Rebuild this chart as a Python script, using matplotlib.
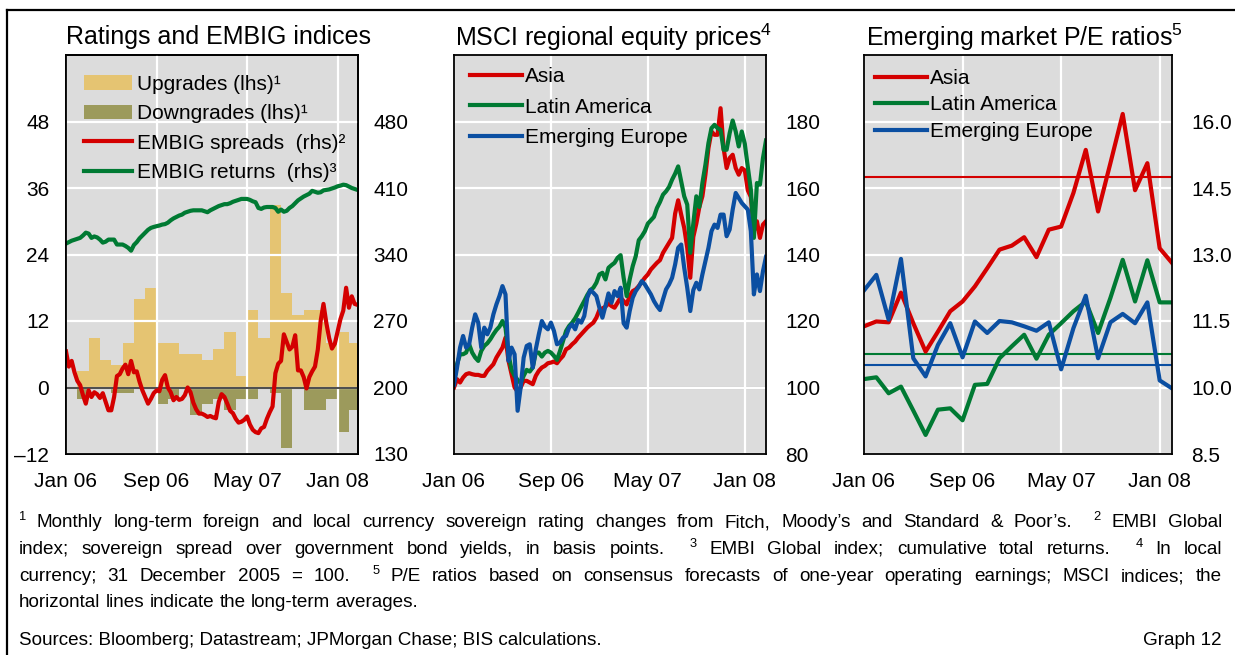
import numpy as np
import matplotlib
matplotlib.use("Agg")
import matplotlib.pyplot as plt
from matplotlib.lines import Line2D

# ---- data ----
tick_months = [0, 8, 16, 24]
tick_labels = ["Jan 06", "Sep 06", "May 07", "Jan 08"]

# monthly rating changes, Jan 06 .. Feb 08 (lhs)
upgrades = [0, 3, 9, 5, 4, 8, 16, 18, 8, 8, 6, 6, 5, 7, 10, 2, 14, 9, 33, 17, 13, 14, 14, 8, 10, 8]
downgrades = [0, -2, 0, 0, -1, -1, 0, 0, -3, -2, 0, -5, -3, -2, -4, -2, -2, 0, -1, -11, 0, -4, -4, -2, -8, -4]

# weekly EMBIG series (rhs), four readings per month from Jan 06
embig_spreads = [238, 222, 228, 216, 207, 202.5, 192, 183, 197, 190, 195, 193, 189, 194, 185, 176,
                 176, 190, 212, 214, 220, 224, 214, 228, 216, 217, 206, 197, 190, 183, 188, 194,
                 197, 196, 208, 213, 200, 195, 186.6, 190, 187, 188, 192, 200, 195, 184, 177, 172.5,
                 172.5, 171, 169, 170, 168.5, 167.6, 185, 193, 190, 183, 175.5, 172.9, 167, 163,
                 164, 166, 169.4, 161, 155.5, 153, 152, 157, 158.5, 167, 174, 180, 215, 225,
                 228, 256, 248, 240, 243, 255, 218, 218, 211, 199, 211, 217, 222, 240, 270, 288,
                 268, 252, 241, 246, 259, 272, 281, 305, 284, 296, 288, 287]
embig_returns = [351.5, 353, 354.5, 355.5, 356.5, 357.5, 360, 363, 362, 357.5, 359, 358, 355.7, 352.5,
                 353.5, 355.7, 355.7, 355.7, 350.5, 350.5, 350.5, 349, 347, 344, 350, 353, 357, 360,
                 363, 366, 368, 369, 369.8, 370.5, 371.5, 372, 373.5, 376, 378, 379.5, 381, 382, 384,
                 385, 386, 386.5, 386.5, 386.5, 386.5, 385.5, 384.5, 386.5, 388, 389.5, 391, 392, 393,
                 393, 394, 395.5, 396.5, 397.5, 398.5, 398.5, 398.5, 397.5, 396, 395, 389, 388, 389.5,
                 390, 390, 390, 389, 385, 387.3, 385, 386, 389, 391, 394, 397, 399, 401, 402.5, 404,
                 407, 406, 405, 405.5, 407.5, 408, 408.5, 409.5, 410.5, 411.8, 412.5, 413.5, 413,
                 411.5, 410, 409, 408]

# MSCI equity prices, 31 Dec 2005 = 100, four readings per month
msci_asia = [100, 102.5, 101.5, 103, 104, 104.3, 104, 103.8, 103.8, 103.5, 103.5, 105, 106, 107, 109,
             110.5, 112, 115, 108, 104, 100, 98.8, 100, 102, 102, 101.5, 101, 103.5, 105, 106, 106.5,
             107.3, 107.5, 107.8, 107.3, 108.5, 109.5, 111.5, 112, 113, 113.8, 115, 116, 117, 118,
             118.8, 119.5, 121, 123.3, 123.8, 124.3, 125.3,
             124.5, 124, 125.5, 127, 126, 125, 127.5, 129, 129.5, 130.5, 131.8, 133, 134, 135.5,
             136.5, 137.5, 138.3, 140.5, 142, 143.5, 145, 152.3, 156.3, 152, 148, 142, 133, 145.3,
             149.3, 154.3, 157.5, 164, 172, 177, 176, 176, 184, 172, 166, 169, 170, 166, 164, 166,
             165.3, 159.3, 157.3, 147, 150, 145, 149, 150]
msci_latam = [102, 107, 110, 110, 110.5, 113, 110.5, 109, 108, 111, 112.5, 113.3, 114.5, 116, 117.3,
              118.3, 120, 118, 110, 105.3, 103.5, 102.3, 101.3, 103.5, 105.3, 104.8, 106, 110.5,
              110.5, 109.3, 110.5, 111, 110.5, 109.5, 108.3, 111, 114, 117, 118.5, 119.5, 120.8,
              122.5, 124.3, 126, 127.8, 129.3, 130, 131.5, 134, 134.5, 132.5, 136,
              136.8, 137.5, 139, 139.8, 133, 127.5, 132.5, 136.5, 139.5, 144.3, 145.5, 147, 149.3,
              150.3, 151.3, 154, 155.8, 158, 159, 160.3, 162.5, 164.3, 166.5, 162, 157.5, 155, 140.5,
              149.3, 157.5, 154.3, 161.5, 167, 173.5, 178, 179, 178, 177.5, 171.5, 171.5, 176.5,
              180.3, 177, 172.5, 177, 173.3, 166.3, 159.5, 145, 161.5, 161, 169, 174.3]
msci_europe = [100.8, 106, 112, 115.5, 112, 113, 118, 122, 119.5, 112, 118, 116, 118, 122, 125, 127.5,
               130.5, 128, 108, 112, 110, 93, 100, 109, 112.5, 113, 106, 111.5, 116, 120, 118.3,
               117.5, 119.5, 117, 113, 113.5, 115, 115.5, 118, 119, 117.5, 120.3, 119.5, 121.5, 127,
               129.3, 128.5, 127.5, 124, 121, 124.5, 128.3,
               125.5, 129, 127.5, 130, 119.3, 118, 123, 127, 129, 130.3, 132, 131, 129.5, 128, 126,
               124.5, 123.3, 126.5, 129.5, 131, 133, 137, 142, 143, 136, 130, 123, 129.3, 131.5,
               129.5, 134, 138, 142, 147, 149, 148, 152, 152, 145.5, 147.5, 153.5, 158.5, 157, 155.5,
               154.5, 153.5, 147, 128, 134, 129, 135, 139.3]

# monthly P/E ratios, Jan 06 .. Feb 08, and long-term averages
pe_asia = [11.38, 11.49, 11.47, 12.14, 11.45, 10.81, 11.26, 11.72, 11.94, 12.28, 12.69, 13.11, 13.20,
           13.39, 12.94, 13.56, 13.63, 14.39, 15.36, 13.97, 15.06, 16.17, 14.45, 15.06, 13.14, 12.81]
pe_latam = [10.19, 10.23, 9.87, 10.02, 9.48, 8.93, 9.50, 9.53, 9.26, 10.06, 10.08, 10.66, 10.93,
            11.19, 10.65, 11.19, 11.45, 11.72, 11.94, 11.23, 12.02, 12.88, 11.94, 12.87, 11.92, 11.92]
pe_europe = [12.19, 12.54, 11.53, 12.90, 10.66, 10.25, 10.96, 11.45, 10.68, 11.49, 11.23, 11.50, 11.47,
             11.38, 11.28, 11.47, 10.41, 11.34, 12.07, 10.66, 11.47, 11.66, 11.45, 11.92, 10.16, 9.98]
pe_longterm = {"Asia": 14.75, "Latin America": 10.75, "Emerging Europe": 10.50}

# ---- style ----
RED = "#D40000"
GREEN = "#007A33"
BLUE = "#0B4FA2"
UPG = "#E5C472"
DNG = "#9C9A5C"
BG = "#DCDCDC"
LW = 3.0

plt.rcParams["font.family"] = ["Liberation Sans", "DejaVu Sans"]
plt.rcParams["mathtext.fontset"] = "custom"
plt.rcParams["mathtext.rm"] = "Liberation Sans"
plt.rcParams["mathtext.it"] = "Liberation Sans:italic"
plt.rcParams["mathtext.bf"] = "Liberation Sans:bold"

W, H = 1235, 655
fig = plt.figure(figsize=(W / 100, H / 100), dpi=100)
FS = 15


def add_axes_px(x0, y0, x1, y1):
    return fig.add_axes([x0 / W, 1 - y1 / H, (x1 - x0) / W, (y1 - y0) / H])


def style(ax):
    ax.set_facecolor(BG)
    ax.grid(True, color="white", lw=1.6)
    for s in ax.spines.values():
        s.set_linewidth(1.3)
        s.set_color("black")
    ax.tick_params(length=0, labelsize=FS)
    ax.tick_params(axis="x", pad=13)
    ax.set_xticks(tick_months)
    ax.set_xticklabels(tick_labels)


# ---- left: ratings and EMBIG ----
ax1 = add_axes_px(66, 55, 358, 454)
style(ax1)
ax1.set_axisbelow(False)
months = np.arange(len(upgrades))
b1 = ax1.bar(months, upgrades, width=1.0, align="edge", color=UPG, linewidth=0, zorder=1)
b2 = ax1.bar(months, downgrades, width=1.0, align="edge", color=DNG, linewidth=0, zorder=1)
ax1.axhline(0, color="#505050", lw=1.5, zorder=3)
ax1.set_xlim(0, 25.8)
ax1.set_ylim(-12, 60)
ax1.set_yticks([-12, 0, 12, 24, 36, 48])
ax1.set_yticklabels(["\u201312", "0", "12", "24", "36", "48"])
ax1.tick_params(axis="y", pad=12)

ax1r = ax1.twinx()
l1, = ax1r.plot(np.arange(len(embig_spreads)) / 4, embig_spreads, color=RED, lw=LW)
l2, = ax1r.plot(np.arange(len(embig_returns)) / 4, embig_returns, color=GREEN, lw=LW)
ax1r.set_ylim(130, 550)
ax1r.set_yticks([130, 200, 270, 340, 410, 480])
ax1r.tick_params(length=0, labelsize=FS, pad=11)
for s in ax1r.spines.values():
    s.set_linewidth(1.3)
ax1r.legend([b1, b2, l1, l2],
            ["Upgrades (lhs)\u00b9", "Downgrades (lhs)\u00b9",
             "EMBIG spreads  (rhs)\u00b2", "EMBIG returns  (rhs)\u00b3"],
            loc="upper left", bbox_to_anchor=(0.062, 0.95), frameon=False, fontsize=FS,
            handlelength=2.3, handletextpad=0.25, labelspacing=0.5, borderpad=0, borderaxespad=0)

# ---- middle: MSCI equity prices ----
ax2 = add_axes_px(454, 55, 766, 454)
style(ax2)
wk = np.arange(len(msci_asia)) / 4
ax2.plot(wk, msci_asia, color=RED, lw=LW, label="Asia")
ax2.plot(wk, msci_latam, color=GREEN, lw=LW, label="Latin America")
ax2.plot(wk, msci_europe, color=BLUE, lw=LW, label="Emerging Europe")
ax2.axhline(100, color="#505050", lw=1.5, zorder=1.5)
ax2.set_xlim(0, 25.75)
ax2.set_ylim(80, 200)
ax2.set_yticks([80, 100, 120, 140, 160, 180])
ax2.yaxis.tick_right()
ax2.tick_params(axis="y", pad=14)
ax2.legend(loc="upper left", bbox_to_anchor=(0.051, 0.97), frameon=False, fontsize=FS,
           handlelength=2.5, handletextpad=0.15, labelspacing=0.56, borderpad=0, borderaxespad=0)

# ---- right: P/E ratios ----
ax3 = add_axes_px(864, 55, 1172, 454)
style(ax3)
mth = np.arange(len(pe_asia))
ax3.plot(mth, pe_asia, color=RED, lw=LW, label="Asia")
ax3.plot(mth, pe_latam, color=GREEN, lw=LW, label="Latin America")
ax3.plot(mth, pe_europe, color=BLUE, lw=LW, label="Emerging Europe")
for name, col in zip(["Asia", "Latin America", "Emerging Europe"], [RED, GREEN, BLUE]):
    ax3.axhline(pe_longterm[name], color=col, lw=1.5, zorder=1.8)
ax3.set_xlim(0, 25)
ax3.set_ylim(8.5, 17.5)
yt = [8.5, 10.0, 11.5, 13.0, 14.5, 16.0]
ax3.set_yticks(yt)
ax3.set_yticklabels(["%.1f" % v for v in yt])
ax3.yaxis.tick_right()
ax3.tick_params(axis="y", pad=14)
ax3.legend(loc="upper left", bbox_to_anchor=(0.036, 0.965), frameon=False, fontsize=FS,
           handlelength=2.5, handletextpad=0.15, labelspacing=0.36, borderpad=0, borderaxespad=0)

# ---- titles ----
titles = [(66, "Ratings and EMBIG indices"),
          (455, "MSCI regional equity prices$^{\\mathregular{4}}$"),
          (866, "Emerging market P/E ratios$^{\\mathregular{5}}$")]
for x, t in titles:
    fig.text(x / W, 1 - 37 / H, t, fontsize=18, ha="left", va="center")

# ---- frame ----
fig.add_artist(Line2D([7 / W, 1], [1 - 10 / H, 1 - 10 / H], color="black", lw=1.6,
                      transform=fig.transFigure))
fig.add_artist(Line2D([7 / W, 7 / W], [1 - 10 / H, 0], color="black", lw=1.6,
                      transform=fig.transFigure))

# ---- footnotes (justified between x0 and x1) ----
FN = 13.6
renderer = fig.canvas.get_renderer()


def note_line(y, words, justify=True, x0=19, x1=1222):
    arts = []
    for w in words:
        sup = w.startswith("^")
        t = fig.text(0, 1 - (y - (7 if sup else 0)) / H, w[1:] if sup else w,
                     fontsize=FN * 0.68 if sup else FN, va="baseline", ha="left")
        arts.append((t, sup))
    widths = [t.get_window_extent(renderer).width for t, _ in arts]
    weights = [0] + [2 if sup else 1 for _, sup in arts[1:]]
    sp = fig.text(0, 0, "a a", fontsize=FN)
    sp2 = fig.text(0, 0, "aa", fontsize=FN)
    space = sp.get_window_extent(renderer).width - sp2.get_window_extent(renderer).width
    sp.remove()
    sp2.remove()
    if justify:
        space = (x1 - x0 - sum(widths)) / sum(weights)
    x = x0
    for i, (t, sup) in enumerate(arts):
        x += weights[i] * space
        t.set_x(x / W)
        x += widths[i]


note_line(527, ["^1", "Monthly", "long-term", "foreign", "and", "local", "currency", "sovereign",
                "rating", "changes", "from", "Fitch,", "Moody\u2019s", "and", "Standard", "&",
                "Poor\u2019s.", "^2", "EMBI", "Global"])
note_line(554, ["index;", "sovereign", "spread", "over", "government", "bond", "yields,", "in",
                "basis", "points.", "^3", "EMBI", "Global", "index;", "cumulative", "total",
                "returns.", "^4", "In", "local"])
note_line(581, ["currency;", "31", "December", "2005", "=", "100.", "^5", "P/E", "ratios", "based",
                "on", "consensus", "forecasts", "of", "one-year", "operating", "earnings;", "MSCI",
                "indices;", "the"])
note_line(607, ["horizontal", "lines", "indicate", "the", "long-term", "averages."], justify=False)
fig.text(19 / W, 1 - 645 / H, "Sources: Bloomberg; Datastream; JPMorgan Chase; BIS calculations.",
         fontsize=FN, va="baseline", ha="left")
fig.text(1222 / W, 1 - 645 / H, "Graph 12", fontsize=FN, va="baseline", ha="right")

fig.savefig("out.png", dpi=100)
